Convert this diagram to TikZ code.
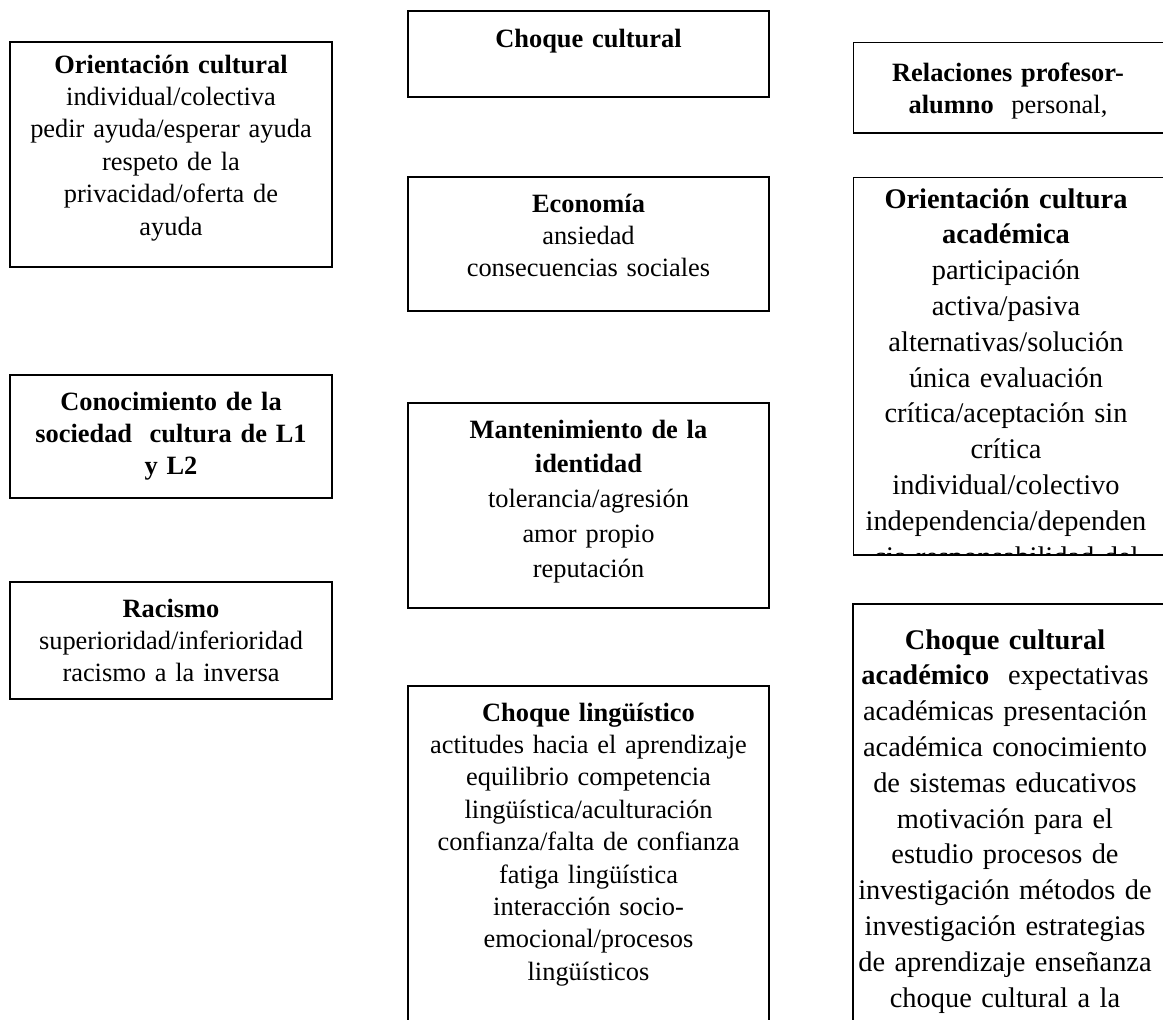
\documentclass[tikz,border=0pt]{standalone}
\usepackage{fontspec}
\setmainfont{Liberation Serif}
\usepackage{tikz}
\usetikzlibrary{positioning,calc}

\begin{document}
\begin{tikzpicture}[x=0.5pt,y=-0.5pt,
    caja/.style={draw,line width=0.9pt},
    texto/.style={anchor=base,inner sep=0pt,text width=185pt,align=center,
        font=\fontsize{13.2}{16.2}\selectfont},
    textoalto/.style={texto,font=\fontsize{13.2}{17.4}\selectfont},
    textoancho/.style={texto,font=\fontsize{14.2}{17.9}\selectfont}]
    \useasboundingbox (0,0) rectangle (1163,1019);
    \clip (0,0) rectangle (1163,1019);
    % columna izquierda
    \draw[caja] (10,42) rectangle (332,267);
    \node[texto] (orientcult) at (171,73) {\textbf{Orientación cultural}\\individual/colectiva\\pedir ayuda/esperar ayuda\\respeto de la\\privacidad/oferta de\\ayuda};
    \draw[caja] (10,375) rectangle (332,498);
    \node[texto] (conoc) at (171,410) {\textbf{Conocimiento de la}\\\textbf{sociedad\ \ cultura de L1}\\\textbf{y L2}};
    \draw[caja] (10,582) rectangle (332,699);
    \node[texto] (racismo) at (171,617) {\textbf{Racismo}\\superioridad/inferioridad\\racismo a la inversa};
    % columna central
    \draw[caja] (408,11) rectangle (769,97);
    \node[texto] (choque) at (588.5,47) {\textbf{Choque cultural}};
    \draw[caja] (408,177) rectangle (769,311);
    \node[texto] (econ) at (588.5,212) {\textbf{Economía}\\ansiedad\\consecuencias sociales};
    \draw[caja] (408,403) rectangle (769,608);
    \node[textoalto] (identidad) at (588.5,438) {\textbf{Mantenimiento de la}\\\textbf{identidad}\\tolerancia/agresión\\amor propio\\reputación};
    \draw[caja] (408,686) rectangle (769,1040);
    \node[texto] (linguis) at (588.5,721) {\textbf{Choque lingüístico}\\actitudes hacia el aprendizaje\\equilibrio competencia\\lingüística/aculturación\\confianza/falta de confianza\\fatiga lingüística\\interacción socio-\\emocional/procesos\\lingüísticos};
    % columna derecha
    \begin{scope}
        \clip (853,42) rectangle (1175,133);
        \draw[caja] (853,42) rectangle (1175,133);
        \node[texto] (relaciones) at (1008,81) {\textbf{Relaciones profesor-}\\\textbf{alumno}\ \ personal,};
    \end{scope}
    \begin{scope}
        \clip (853,177) rectangle (1175,555);
        \draw[caja] (853,177) rectangle (1175,555);
        \node[textoancho] (academica) at (1006,208) {\textbf{Orientación cultura}\\\textbf{académica}\\participación\\activa/pasiva\\alternativas/solución\\única evaluación\\crítica/aceptación sin\\crítica\\individual/colectivo\\independencia/dependen\\cia responsabilidad del};
    \end{scope}
    \draw[caja] (853,604) rectangle (1175,1040);
    \node[textoancho] (academico) at (1005,649) {\textbf{Choque cultural}\\\textbf{académico}\ \ expectativas\\académicas presentación\\académica conocimiento\\de sistemas educativos\\motivación para el\\estudio procesos de\\investigación métodos de\\investigación estrategias\\de aprendizaje enseñanza\\choque cultural a la\\inversa};
\end{tikzpicture}
\end{document}
